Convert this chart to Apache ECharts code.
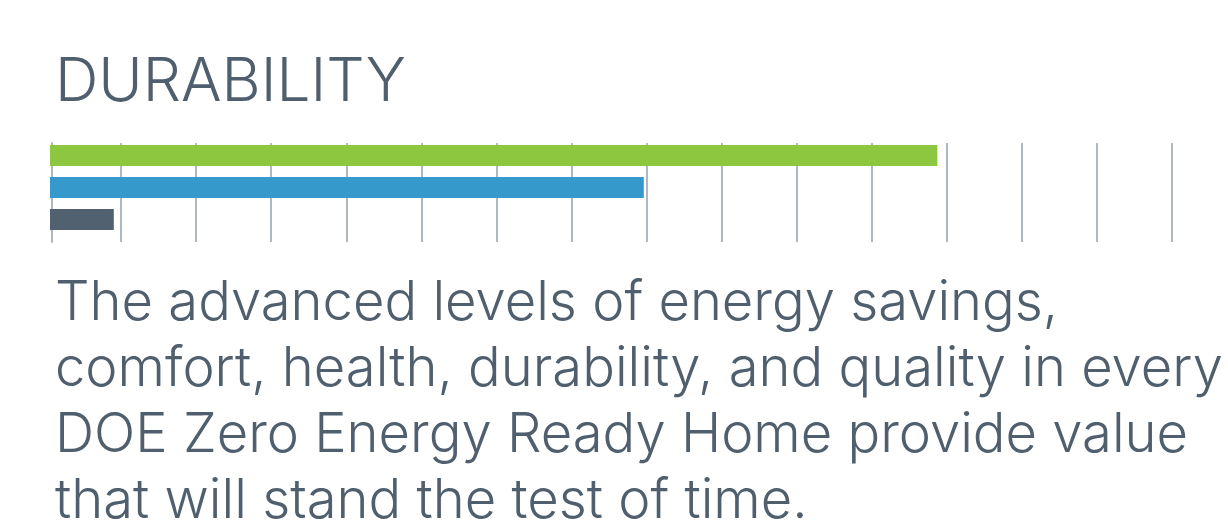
<!DOCTYPE html>
<html>
<head>
<meta charset="utf-8">
<script src="https://cdn.jsdelivr.net/npm/echarts@6/dist/echarts.min.js"></script>
<style>
html,body{margin:0;padding:0;background:#fff;}
#chart{width:1228px;height:527px;}
</style>
</head>
<body>
<div id="chart"></div>
<script>
// ---- data ----
const categories = ['Series A', 'Series B', 'Series C'];
const values = [11.82, 7.91, 0.85];
const barColors = ['#8dc63f', '#3599cb', '#52616f'];
const titleText = 'DURABILITY';
const bodyLines = [
  'The advanced levels of energy savings,',
  'comfort, health, durability, and quality in every',
  'DOE Zero Energy Ready Home provide value',
  'that will stand the test of time.'
];

// ---- styling ----
const FONT = 'Inter';
const WEIGHT = 300;
const TEXT_COLOR = '#4f5f6d';
const GRID_COLOR = '#b1b7bf';

function measure(txt, size) {
  const c = document.createElement('canvas').getContext('2d');
  c.font = WEIGHT + ' ' + size + 'px ' + FONT;
  return c.measureText(txt).width;
}
const bodySize = 100 * 1168 / measure(bodyLines[1], 100);
const titleSize = 100 * 351 / measure(titleText, 100);

const baselines = [327, 393, 459, 525];

const graphics = [{
  type: 'text',
  left: 55,
  top: 109 - titleSize * 0.93,
  style: { text: titleText, font: WEIGHT + ' ' + titleSize + 'px ' + FONT, fill: TEXT_COLOR }
}];
bodyLines.forEach((t, i) => {
  graphics.push({
    type: 'text',
    left: 55,
    top: baselines[i] - bodySize * 0.93,
    style: { text: t, font: WEIGHT + ' ' + bodySize + 'px ' + FONT, fill: TEXT_COLOR }
  });
});

const chart = echarts.init(document.getElementById('chart'), null, { renderer: 'canvas' });
chart.setOption({
  animation: false,
  backgroundColor: '#ffffff',
  grid: [
    { left: 46, top: 143, width: 1126, height: 99 },
    { left: 50, top: 139.5, width: 1122, height: 96 }
  ],
  xAxis: [
    {
      gridIndex: 0, type: 'value', min: 0, max: 15, interval: 1,
      axisLine: { show: false }, axisTick: { show: false }, axisLabel: { show: false },
      splitLine: { show: true, showMinLine: false, lineStyle: { color: GRID_COLOR, width: 2 } }
    },
    {
      gridIndex: 1, type: 'value', min: 0, max: 1122 / 75.07,
      axisLine: { show: false }, axisTick: { show: false }, axisLabel: { show: false },
      splitLine: { show: false }
    }
  ],
  yAxis: [
    {
      gridIndex: 0, type: 'value', min: 0, max: 1, offset: -6,
      axisLine: { show: true, lineStyle: { color: GRID_COLOR, width: 2 } },
      axisTick: { show: false }, axisLabel: { show: false }, splitLine: { show: false }
    },
    {
      gridIndex: 1, type: 'category', data: categories, inverse: true,
      axisLine: { show: false }, axisTick: { show: false }, axisLabel: { show: false },
      splitLine: { show: false }
    }
  ],
  series: [{
    type: 'bar',
    xAxisIndex: 1, yAxisIndex: 1,
    barWidth: 21,
    z: 5,
    data: values.map((v, i) => ({ value: v, itemStyle: { color: barColors[i] } }))
  }],
  graphic: graphics
});
</script>
</body>
</html>
